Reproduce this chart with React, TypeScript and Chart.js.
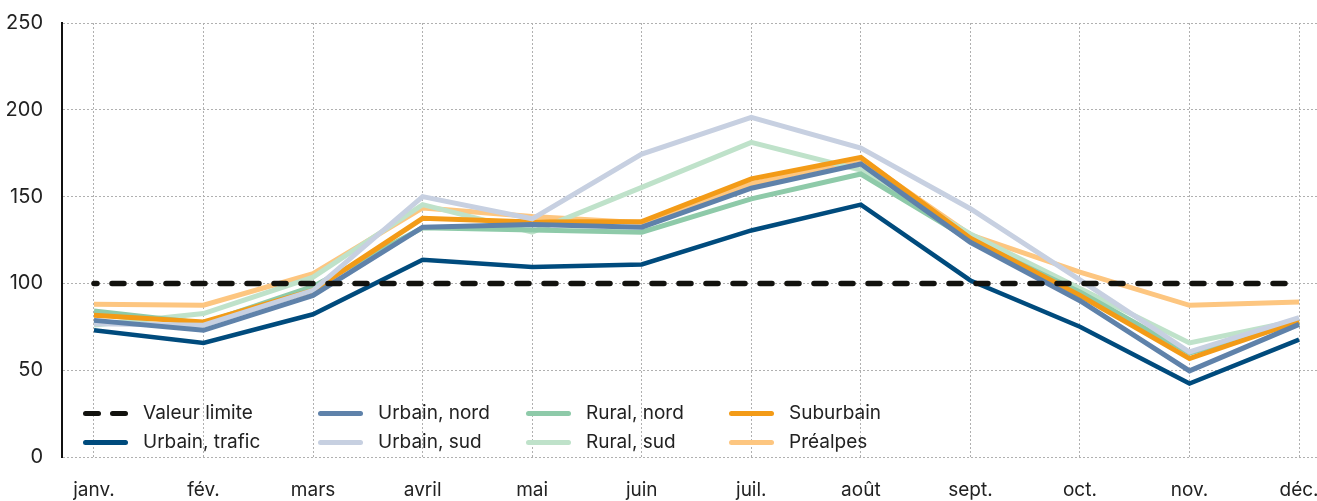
import React, { useEffect, useRef } from "react";
import { Chart, registerables } from "chart.js";

Chart.register(...registerables);

const months = ["janv.", "fév.", "mars", "avril", "mai", "juin", "juil.", "août", "sept.", "oct.", "nov.", "déc."];
const valeurLimite = [100, 100, 100, 100, 100, 100, 100, 100, 100, 100, 100, 100];
const urbainTrafic = [73, 65.7, 82.2, 113.6, 109.4, 110.9, 130.5, 145.4, 101.7, 75, 42.3, 67.6];
const urbainNord = [78.7, 73, 93.1, 132.4, 133.9, 132.4, 154.8, 168.8, 123.7, 90, 49.6, 76.4];
const urbainSud = [76.8, 75.9, 96, 150, 137.2, 174.5, 195.6, 178, 143, 102, 60.5, 80.3];
const ruralNord = [84.1, 77, 98.3, 132, 130.8, 129.5, 148.7, 163, 125, 95, 59.8, 77.6];
const ruralSud = [76, 82.6, 103.6, 145.4, 129.5, 155.3, 181.2, 165.3, 128.5, 97, 65.7, 78.8];
const suburbain = [81.6, 77.8, 96, 137.5, 135.3, 135.6, 160.2, 172.6, 126, 93, 56.7, 78.3];
const prealpes = [88, 87.4, 105.6, 143.5, 138.5, 135, 157.3, 171.6, 128, 106.5, 87.4, 89.3];
const yTicks = [0, 50, 100, 150, 200, 250];

const COLORS = {
  limite: "#12120e",
  trafic: "#004b7d",
  urbainNord: "#5f82aa",
  urbainSud: "#c7d0e1",
  ruralNord: "#8ecaa9",
  ruralSud: "#bfe2ca",
  suburbain: "#f39b17",
  prealpes: "#fdc680",
};

const FONT = "Inter, 'Noto Sans', sans-serif";

const legendItems = [
  { label: "Valeur limite", color: COLORS.limite, dashed: true, col: 0, row: 0 },
  { label: "Urbain, trafic", color: COLORS.trafic, dashed: false, col: 0, row: 1 },
  { label: "Urbain, nord", color: COLORS.urbainNord, dashed: false, col: 1, row: 0 },
  { label: "Urbain, sud", color: COLORS.urbainSud, dashed: false, col: 1, row: 1 },
  { label: "Rural, nord", color: COLORS.ruralNord, dashed: false, col: 2, row: 0 },
  { label: "Rural, sud", color: COLORS.ruralSud, dashed: false, col: 2, row: 1 },
  { label: "Suburbain", color: COLORS.suburbain, dashed: false, col: 3, row: 0 },
  { label: "Préalpes", color: COLORS.prealpes, dashed: false, col: 3, row: 1 },
];
const legendColX = [83, 318, 526, 729];
const legendRowY = [413, 442];

const pts = (arr: number[]) => arr.map((v, i) => ({ x: i, y: v }));

export default function App() {
  const ref = useRef<HTMLCanvasElement | null>(null);

  useEffect(() => {
    if (!ref.current) return;
    const line = (label: string, data: number[], color: string, width: number, extra: any = {}) => ({
      label,
      data: pts(data),
      borderColor: color,
      backgroundColor: color,
      borderWidth: width,
      pointRadius: 0,
      tension: 0,
      fill: false,
      ...extra,
    });
    const chart = new Chart(ref.current, {
      type: "line",
      data: {
        datasets: [
          line("Valeur limite", valeurLimite, COLORS.limite, 5.5, {
            borderDash: [12, 15],
            borderDashOffset: 9,
            borderCapStyle: "round",
          }),
          line("Urbain, trafic", urbainTrafic, COLORS.trafic, 4.5),
          line("Urbain, nord", urbainNord, COLORS.urbainNord, 5),
          line("Urbain, sud", urbainSud, COLORS.urbainSud, 5),
          line("Suburbain", suburbain, COLORS.suburbain, 5),
          line("Rural, nord", ruralNord, COLORS.ruralNord, 5),
          line("Rural, sud", ruralSud, COLORS.ruralSud, 5),
          line("Préalpes", prealpes, COLORS.prealpes, 5),
        ],
      },
      options: {
        animation: false,
        responsive: false,
        events: [],
        layout: { padding: { top: 23, left: 0, right: 0, bottom: 0 } },
        plugins: { legend: { display: false }, tooltip: { enabled: false } },
        scales: {
          x: {
            type: "linear",
            min: -0.292,
            max: 11.164,
            afterBuildTicks: (scale: any) => {
              scale.ticks = months.map((_, i) => ({ value: i }));
            },
            afterFit: (scale: any) => {
              scale.height = 44;
              scale.paddingLeft = 0;
              scale.paddingRight = 0;
            },
            ticks: {
              autoSkip: false,
              maxRotation: 0,
              padding: 22,
              color: "#222",
              font: { family: FONT, size: 19 },
              callback: (v: any) => months[v as number] ?? "",
            },
            grid: { color: "#b0b0b0", lineWidth: 1, drawTicks: false },
            border: { display: false, dash: [2, 2] },
          },
          y: {
            min: 0,
            max: 250,
            afterBuildTicks: (scale: any) => {
              scale.ticks = yTicks.map((v) => ({ value: v }));
            },
            afterFit: (scale: any) => {
              scale.width = 62;
              scale.paddingTop = 0;
              scale.paddingBottom = 0;
            },
            ticks: {
              padding: 19,
              color: "#222",
              font: { family: FONT, size: 20 },
            },
            grid: { color: "#b0b0b0", lineWidth: 1, drawTicks: false },
            border: { display: true, color: "#111", width: 2, dash: [2, 2] },
          },
        },
      } as any,
    });
    return () => chart.destroy();
  }, []);

  return (
    <div style={{ position: "fixed", left: 0, top: 0, width: 1317, height: 501, background: "#fff" }}>
      <canvas ref={ref} width={1317} height={501} style={{ width: 1317, height: 501, display: "block" }} />
      {legendItems.map((it) => {
        const x = legendColX[it.col];
        const y = legendRowY[it.row];
        return (
          <div key={it.label}>
            {it.dashed ? (
              <>
                <div style={{ position: "absolute", left: x, top: y - 2.5, width: 18, height: 5, borderRadius: 3, background: it.color }} />
                <div style={{ position: "absolute", left: x + 27, top: y - 2.5, width: 18, height: 5, borderRadius: 3, background: it.color }} />
              </>
            ) : (
              <div style={{ position: "absolute", left: x, top: y - 2.5, width: 45, height: 5, borderRadius: 3, background: it.color }} />
            )}
            <div
              style={{
                position: "absolute",
                left: x + 60,
                top: y - 12,
                height: 24,
                lineHeight: "24px",
                fontFamily: FONT,
                fontSize: 19,
                color: "#222",
                whiteSpace: "nowrap",
              }}
            >
              {it.label}
            </div>
          </div>
        );
      })}
    </div>
  );
}
